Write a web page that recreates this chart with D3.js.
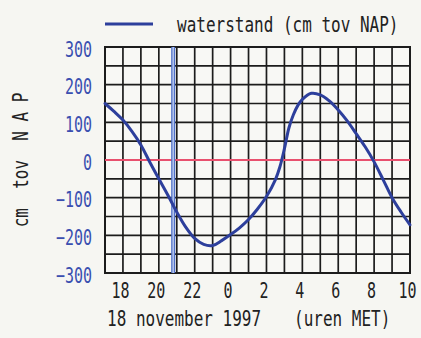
<!DOCTYPE html>
<html>
<head>
<meta charset="utf-8">
<script src="https://cdn.jsdelivr.net/npm/d3@7"></script>
<style>
  html, body { margin: 0; padding: 0; background: #f6f6f2; }
  svg { display: block; }
  text { font-family: "DejaVu Sans Mono", monospace; white-space: pre; }
</style>
</head>
<body>
<script>
// ---- data ----
const hours = [17, 17.5, 18, 18.5, 19, 19.5, 20, 20.5, 21, 21.5, 22, 22.5, 23, 23.5, 24, 24.5, 25, 25.5,
               26, 26.5, 26.75, 27, 27.25, 27.5, 27.75, 28, 28.5, 29, 29.5, 30, 30.5, 31, 31.5, 32, 32.5, 33, 33.5, 34];
const waterLevel = [150, 129, 106, 76, 40, -6, -50, -93, -138, -178, -208, -224, -227, -214, -198, -180, -158, -130,
                    -97, -52, -18, 30, 85, 120, 145, 161, 177, 173, 157, 133, 104, 70, 35, -5, -52, -100, -138, -172];
const yTicks = [300, 200, 100, 0, -100, -200, -300];
const xTicks = [18, 20, 22, 24, 26, 28, 30, 32, 34];
const xTickLabels = ["18", "20", "22", "0", "2", "4", "6", "8", "10"];
const markerHours = [20.8];
const legendLabel = "waterstand (cm tov NAP)";
const dateLabel = "18 november 1997";
const unitLabel = "(uren MET)";
const yTitle = "cm  tov  N A P";

// ---- layout ----
const W = 421, H = 338;
const L = 105, R = 410, T = 47, B = 273;

const svg = d3.select("body").append("svg").attr("width", W).attr("height", H);
svg.append("rect").attr("width", W).attr("height", H).attr("fill", "#f6f6f2");

const x = d3.scaleLinear().domain([17, 34]).range([L, R]);
const y = d3.scaleLinear().domain([-300, 300]).range([B, T]);

// plot background
svg.append("rect").attr("x", L).attr("y", T).attr("width", R - L).attr("height", B - T).attr("fill", "#f8f8f5");

// grid
const gridColor = "#1c1c1c";
svg.append("g").selectAll("line").data(d3.range(17, 34.01, 1)).join("line")
  .attr("x1", d => x(d)).attr("x2", d => x(d)).attr("y1", T).attr("y2", B)
  .attr("stroke", gridColor).attr("stroke-width", 1.7);
svg.append("g").selectAll("line").data(d3.range(-300, 300.01, 50)).join("line")
  .attr("x1", L).attr("x2", R).attr("y1", d => y(d)).attr("y2", d => y(d))
  .attr("stroke", gridColor).attr("stroke-width", 1.7);
svg.append("rect").attr("x", L).attr("y", T).attr("width", R - L).attr("height", B - T)
  .attr("fill", "none").attr("stroke", gridColor).attr("stroke-width", 2);

// zero line
svg.append("line").attr("x1", L).attr("x2", R).attr("y1", y(0)).attr("y2", y(0))
  .attr("stroke", "#e8506e").attr("stroke-width", 2);

// time marker
const mk = svg.append("g").selectAll("g").data(markerHours).join("g");
mk.append("line").attr("x1", d => x(d)).attr("x2", d => x(d)).attr("y1", T).attr("y2", B)
  .attr("stroke", "#4f70c8").attr("stroke-width", 4);
mk.append("line").attr("x1", d => x(d)).attr("x2", d => x(d)).attr("y1", T).attr("y2", B)
  .attr("stroke", "#b9c9ee").attr("stroke-width", 1.5);

// curve
const line = d3.line().x((d, i) => x(hours[i])).y(d => y(d)).curve(d3.curveCatmullRom.alpha(0.5));
svg.append("path").datum(waterLevel).attr("d", line)
  .attr("fill", "none").attr("stroke", "#2d3f9c").attr("stroke-width", 3)
  .attr("stroke-linejoin", "round").attr("stroke-linecap", "round");

// y axis labels
const yAxis = d3.axisLeft(y).tickValues(yTicks).tickSize(0).tickPadding(0);
const gy = svg.append("g").attr("transform", `translate(${L - 13},0)`).call(yAxis);
gy.select(".domain").remove();
gy.selectAll(".tick text")
  .attr("fill", "#3a4fb0").attr("font-size", 15).attr("dy", null).attr("x", 0).attr("y", 0)
  .attr("text-anchor", "end")
  .attr("transform", "translate(0,9) scale(1,1.45)");

// x axis labels
const xAxis = d3.axisBottom(x).tickValues(xTicks).tickFormat((d, i) => xTickLabels[i]).tickSize(0).tickPadding(0);
const gx = svg.append("g").attr("transform", `translate(-3,${B})`).call(xAxis);
gx.select(".domain").remove();
gx.selectAll(".tick text")
  .attr("fill", "#222").attr("font-size", 15).attr("dy", null).attr("y", 0)
  .attr("text-anchor", "middle")
  .attr("transform", "translate(0,25) scale(1,1.45)");

// date and units
svg.append("text").attr("transform", "translate(107,326) scale(1,1.38)")
  .attr("font-size", 16).attr("fill", "#222").text(dateLabel);
svg.append("text").attr("transform", "translate(294,326) scale(1,1.38)")
  .attr("font-size", 16).attr("fill", "#222").text(unitLabel);

// legend
svg.append("line").attr("x1", 105).attr("x2", 153).attr("y1", 24).attr("y2", 24)
  .attr("stroke", "#2d3f9c").attr("stroke-width", 3);
svg.append("text").attr("transform", "translate(177,32) scale(1,1.38)")
  .attr("font-size", 16).attr("fill", "#222").text(legendLabel);

// y title
svg.append("text").attr("transform", "translate(28,160) rotate(-90) scale(1,1.38)")
  .attr("text-anchor", "middle").attr("font-size", 16).attr("fill", "#222").text(yTitle);
</script>
</body>
</html>
